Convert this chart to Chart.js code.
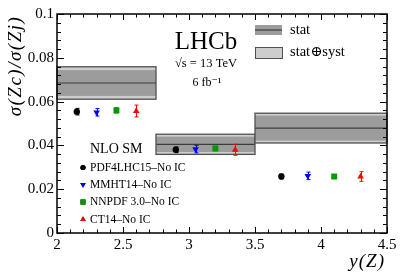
<!DOCTYPE html>
<html>
<head>
<meta charset="utf-8">
<script src="https://cdn.jsdelivr.net/npm/chart.js@4"></script>
<style>
  html, body { margin: 0; padding: 0; background: #fff; }
  canvas { display: block; }
</style>
</head>
<body>
<canvas id="ratioChart" width="408" height="278"></canvas>
<script>
// LHCb measurement, bins in y(Z)
const binEdges = [2, 2.75, 3.5, 4.5];
const lhcbValue = [0.0685, 0.0405, 0.0479];
const lhcbStat = [0.0059, 0.0035, 0.0057];
const lhcbTotal = [0.0074, 0.0046, 0.0068];

// NLO SM predictions
const pdf4lhcX = [2.15, 2.9, 3.7];
const pdf4lhcY = [0.0554, 0.0380, 0.0258];
const pdf4lhcErr = [0.0015, 0.0013, 0.0011];

const mmhtX = [2.3, 3.05, 3.9];
const mmhtY = [0.0551, 0.0383, 0.0261];
const mmhtErr = [0.0017, 0.0017, 0.0017];

const nnpdfX = [2.45, 3.2, 4.1];
const nnpdfY = [0.0560, 0.0386, 0.0258];
const nnpdfErr = [0.0012, 0.0010, 0.0009];

const ct14X = [2.6, 3.35, 4.3];
const ct14Y = [0.0557, 0.0380, 0.0258];
const ct14Err = [0.0027, 0.0025, 0.0022];

const xTicks = [2, 2.5, 3, 3.5, 4, 4.5];
const yTicks = [0, 0.02, 0.04, 0.06, 0.08, 0.1];

const serif = '"Liberation Serif", "DejaVu Serif", serif';

function pts(xs, ys, errs) {
  return xs.map((x, i) => ({x: x, y: ys[i], err: errs[i]}));
}

const series = [
  {label: 'PDF4LHC15\u2013No IC', color: '#000000', style: 'circle', rot: 0, r: 3.2, data: pts(pdf4lhcX, pdf4lhcY, pdf4lhcErr)},
  {label: 'MMHT14\u2013No IC', color: '#0000ff', style: 'triangle', rot: 180, r: 3.8, data: pts(mmhtX, mmhtY, mmhtErr)},
  {label: 'NNPDF 3.0\u2013No IC', color: '#009900', style: 'rect', rot: 0, r: 4.2, data: pts(nnpdfX, nnpdfY, nnpdfErr)},
  {label: 'CT14\u2013No IC', color: '#ff0000', style: 'triangle', rot: 0, r: 3.8, data: pts(ct14X, ct14Y, ct14Err)}
];

// boxes, error bars, frame, ticks and labels
const drawPlugin = {
  id: 'lhcbDraw',
  beforeDatasetsDraw(chart) {
    const ctx = chart.ctx;
    const x = chart.scales.x, y = chart.scales.y;
    ctx.save();
    for (let i = 0; i < lhcbValue.length; i++) {
      const x0 = x.getPixelForValue(binEdges[i]);
      const x1 = x.getPixelForValue(binEdges[i + 1]);
      const tTop = y.getPixelForValue(lhcbValue[i] + lhcbTotal[i]);
      const tBot = y.getPixelForValue(lhcbValue[i] - lhcbTotal[i]);
      const sTop = y.getPixelForValue(lhcbValue[i] + lhcbStat[i]);
      const sBot = y.getPixelForValue(lhcbValue[i] - lhcbStat[i]);
      const c = y.getPixelForValue(lhcbValue[i]);
      ctx.fillStyle = '#cdcdcd';
      ctx.fillRect(x0, tTop, x1 - x0, tBot - tTop);
      ctx.fillStyle = '#9c9c9c';
      ctx.fillRect(x0, sTop, x1 - x0, sBot - sTop);
      ctx.strokeStyle = '#3c3c3c';
      ctx.lineWidth = 1.2;
      ctx.beginPath();
      ctx.moveTo(x0, c); ctx.lineTo(x1, c);
      ctx.stroke();
      ctx.strokeStyle = '#505050';
      ctx.lineWidth = 1.3;
      ctx.strokeRect(x0, tTop, x1 - x0, tBot - tTop);
    }
    // error bars
    series.forEach(s => {
      ctx.strokeStyle = s.color;
      ctx.lineWidth = 1;
      s.data.forEach(p => {
        const px = Math.round(x.getPixelForValue(p.x)) + 0.5;
        const up = y.getPixelForValue(p.y + p.err);
        const dn = y.getPixelForValue(p.y - p.err);
        ctx.beginPath();
        ctx.moveTo(px, up); ctx.lineTo(px, dn);
        ctx.moveTo(px - 2, up); ctx.lineTo(px + 2, up);
        ctx.moveTo(px - 2, dn); ctx.lineTo(px + 2, dn);
        ctx.stroke();
      });
    });
    ctx.restore();
  },
  afterDraw(chart) {
    const ctx = chart.ctx;
    const a = chart.chartArea;
    const x = chart.scales.x, y = chart.scales.y;
    ctx.save();
    ctx.strokeStyle = '#000';
    ctx.lineWidth = 1.5;
    ctx.strokeRect(a.left, a.top, a.right - a.left, a.bottom - a.top);

    // ticks inside, all four sides
    ctx.lineWidth = 1;
    ctx.beginPath();
    for (let k = 0; k <= 25; k++) {
      const v = 2 + k * 0.1;
      const px = Math.round(x.getPixelForValue(v)) + 0.5;
      const len = (k % 5 === 0) ? 6 : 3.5;
      ctx.moveTo(px, a.bottom); ctx.lineTo(px, a.bottom - len);
      ctx.moveTo(px, a.top); ctx.lineTo(px, a.top + len);
    }
    for (let k = 0; k <= 25; k++) {
      const v = k * 0.004;
      const py = Math.round(y.getPixelForValue(v)) + 0.5;
      const len = (k % 5 === 0) ? 7 : 4;
      ctx.moveTo(a.left, py); ctx.lineTo(a.left + len, py);
      ctx.moveTo(a.right, py); ctx.lineTo(a.right - len, py);
    }
    ctx.stroke();

    ctx.fillStyle = '#000';
    ctx.textBaseline = 'middle';

    // axis titles
    ctx.save();
    ctx.translate(16, 66);
    ctx.rotate(-Math.PI / 2);
    ctx.textAlign = 'center';
    ctx.font = 'italic 19px ' + serif;
    ctx.letterSpacing = '1.5px';
    ctx.fillText('\u03c3(Zc)/\u03c3(Zj)', 0, 0);
    ctx.restore();

    ctx.textAlign = 'right';
    ctx.font = 'italic 19px ' + serif;
    ctx.letterSpacing = '1px';
    ctx.fillText('y(Z)', 385, 262);
    ctx.letterSpacing = '0px';

    // LHCb label
    ctx.textAlign = 'center';
    ctx.font = '25px ' + serif;
    ctx.fillText('LHCb', 206, 42);
    ctx.font = '12.5px ' + serif;
    ctx.fillText('\u221as = 13 TeV', 206, 64);
    ctx.font = '12px ' + serif;
    ctx.fillText('6 fb\u207b\u00b9', 207, 83);

    // stat / syst legend
    ctx.fillStyle = '#9c9c9c';
    ctx.fillRect(255, 25, 27, 10);
    ctx.strokeStyle = '#3c3c3c';
    ctx.lineWidth = 1.2;
    ctx.beginPath(); ctx.moveTo(255, 30); ctx.lineTo(282, 30); ctx.stroke();
    ctx.fillStyle = '#cdcdcd';
    ctx.fillRect(255, 47, 27, 11);
    ctx.strokeStyle = '#505050';
    ctx.lineWidth = 1;
    ctx.strokeRect(255.5, 47.5, 27, 11);
    ctx.fillStyle = '#000';
    ctx.textAlign = 'left';
    ctx.font = '14.5px ' + serif;
    ctx.fillText('stat', 290, 30);
    ctx.fillText('stat\u2295syst', 290, 52);

    // NLO SM legend
    ctx.font = '14px ' + serif;
    ctx.fillText('NLO SM', 90, 149);
    ctx.font = '11.5px ' + serif;
    const ly = [167.5, 184.5, 202, 219.5];
    series.forEach((s, i) => {
      Chart.helpers.drawPoint(ctx, {pointStyle: s.style, rotation: s.rot, radius: s.r - 0.6, borderWidth: 0}, 83, ly[i]);
      ctx.fillStyle = s.color;
      ctx.fill();
      ctx.fillStyle = '#000';
      ctx.fillText(s.label, 90, ly[i]);
    });
    ctx.restore();
  }
};

const chart = new Chart(document.getElementById('ratioChart'), {
  type: 'scatter',
  data: {
    datasets: series.map(s => ({
      label: s.label,
      data: s.data,
      pointStyle: s.style,
      rotation: s.rot,
      pointRadius: s.r,
      backgroundColor: s.color,
      borderColor: s.color,
      borderWidth: 0
    }))
  },
  options: {
    responsive: false,
    animation: false,
    devicePixelRatio: 1,
    layout: {padding: {left: 0, right: 21, top: 14, bottom: 0}},
    plugins: {legend: {display: false}, tooltip: {enabled: false}},
    scales: {
      x: {
        type: 'linear', min: 2, max: 4.5,
        afterBuildTicks: s => { s.ticks = xTicks.map(v => ({value: v})); },
        afterFit: s => { s.height = 45; },
        grid: {display: false, drawTicks: false},
        border: {display: false},
        ticks: {
          color: '#000', padding: 3, maxRotation: 0,
          font: {family: serif, size: 15},
          callback: v => String(v)
        }
      },
      y: {
        min: 0, max: 0.1,
        afterBuildTicks: s => { s.ticks = yTicks.map(v => ({value: v})); },
        afterFit: s => { s.width = 57; },
        grid: {display: false, drawTicks: false},
        border: {display: false},
        ticks: {
          color: '#000', padding: 3,
          font: {family: serif, size: 15},
          callback: v => v === 0 ? '0' : String(+v.toFixed(2))
        }
      }
    }
  },
  plugins: [drawPlugin]
});
</script>
</body>
</html>
